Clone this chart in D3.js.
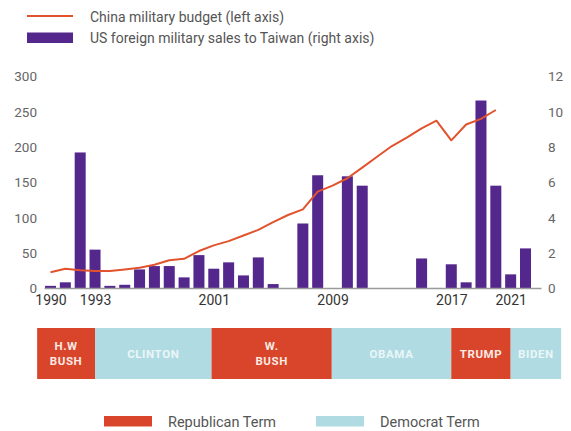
<!DOCTYPE html>
<html>
<head>
<meta charset="utf-8">
<script src="https://cdn.jsdelivr.net/npm/d3@7"></script>
<style>
  html, body { margin: 0; padding: 0; background: #fff; }
  svg { display: block; font-family: Roboto, "Noto Sans", sans-serif; }
</style>
</head>
<body>
<svg id="chart" width="571" height="431"></svg>
<script>
// Years on the shared x axis
const years = d3.range(1990, 2023);

// US foreign military sales to Taiwan, billions USD (right axis)
const salesValues = [0.15, 0.35, 7.7, 2.2, 0.15, 0.21, 1.08, 1.27, 1.27, 0.63,
  1.89, 1.12, 1.48, 0.74, 1.76, 0.25, 0, 3.68, 6.41, 0,
  6.35, 5.82, 0, 0, 0, 1.7, 0.03, 1.37, 0.35, 10.64,
  5.82, 0.8, 2.27];

// China military budget, billions USD (left axis), 1990–2020
const budgetYears = d3.range(1990, 2021);
const budgetValues = [23, 28, 25.7, 24.7, 24.7, 27, 29.5, 33.7, 40, 42,
  53, 61, 67, 75, 83, 94, 104, 112, 137, 145.5,
  156, 171, 186.5, 201.6, 213.4, 226.7, 237.5, 209.7, 232, 240,
  252.6];

// Tick labels
const xTickYears = [1990, 1993, 2001, 2009, 2017, 2021];
const leftTicks = [0, 50, 100, 150, 200, 250, 300];
const rightTicks = [0, 2, 4, 6, 8, 10, 12];

// Presidential terms shown beneath the chart
const termNames = ["H.W\nBUSH", "CLINTON", "W.\nBUSH", "OBAMA", "TRUMP", "BIDEN"];
const termStarts = [1989.1, 1993, 2000.85, 2008.95, 2017, 2021];
const termEnds = [1993, 2000.85, 2008.95, 2017, 2021, 2024.4];
const termParty = ["R", "D", "R", "D", "R", "D"];

const RED = "#d8452a";
const BLUE = "#b1dbe2";
const PURPLE = "#54278d";
const LINE = "#e1532d";

const svg = d3.select("#chart");

// Layout
const plot = { left: 44.5, right: 541.5, top: 76.5, bottom: 288.5 };

const x = d3.scaleLinear().domain([1990, 2022]).range([50.5, 525.5]);
const yLeft = d3.scaleLinear().domain([0, 300]).range([plot.bottom, plot.top]);
const yRight = d3.scaleLinear().domain([0, 12]).range([plot.bottom, plot.top]);
const barWidth = 11;

// Top legend
const legend = svg.append("g").attr("class", "legend");
legend.append("line")
  .attr("x1", 27).attr("x2", 73).attr("y1", 16).attr("y2", 16)
  .attr("stroke", LINE).attr("stroke-width", 2);
legend.append("rect")
  .attr("x", 27).attr("y", 32.5).attr("width", 46).attr("height", 10.5)
  .attr("fill", PURPLE);
legend.append("text")
  .attr("x", 90).attr("y", 17).attr("dy", "0.35em")
  .attr("font-size", 14).attr("fill", "#555")
  .text("China military budget (left axis)");
legend.append("text")
  .attr("x", 90).attr("y", 38).attr("dy", "0.35em")
  .attr("font-size", 14).attr("fill", "#555")
  .text("US foreign military sales to Taiwan (right axis)");

// Left axis labels
const leftAxis = d3.axisLeft(yLeft).tickValues(leftTicks).tickSize(0).tickPadding(0);
svg.append("g")
  .attr("transform", "translate(37,0)")
  .call(leftAxis)
  .call(g => g.select(".domain").remove())
  .call(g => g.selectAll("text")
    .attr("font-family", "Roboto, sans-serif")
    .attr("font-size", 13.5).attr("fill", "#666"));

// Right axis labels
const rightAxis = d3.axisRight(yRight).tickValues(rightTicks).tickSize(0).tickPadding(0);
svg.append("g")
  .attr("transform", "translate(548,0)")
  .call(rightAxis)
  .call(g => g.select(".domain").remove())
  .call(g => g.selectAll("text")
    .attr("font-family", "Roboto, sans-serif")
    .attr("font-size", 13.5).attr("fill", "#666"));

// Bars: arms sales
svg.append("g")
  .selectAll("rect")
  .data(years.map((yr, i) => ({ yr, v: salesValues[i] })).filter(d => d.v > 0))
  .join("rect")
  .attr("x", d => x(d.yr) - barWidth / 2)
  .attr("width", barWidth)
  .attr("y", d => yRight(d.v))
  .attr("height", d => yRight(0) - yRight(d.v))
  .attr("fill", PURPLE);

// Baseline
svg.append("line")
  .attr("x1", plot.left).attr("x2", plot.right)
  .attr("y1", plot.bottom).attr("y2", plot.bottom)
  .attr("stroke", "#9a9a9a").attr("stroke-width", 1.5);

// Line: China budget
const budgetLine = d3.line()
  .x((d, i) => x(budgetYears[i]))
  .y(d => yLeft(d));
svg.append("path")
  .datum(budgetValues)
  .attr("d", budgetLine)
  .attr("fill", "none")
  .attr("stroke", LINE)
  .attr("stroke-width", 2)
  .attr("stroke-linejoin", "round");

// X axis labels
const xAxis = d3.axisBottom(x).tickValues(xTickYears).tickFormat(d3.format("d"))
  .tickSize(0).tickPadding(0);
svg.append("g")
  .attr("transform", `translate(0,${plot.bottom + 7})`)
  .call(xAxis)
  .call(g => g.select(".domain").remove())
  .call(g => g.selectAll("text")
    .attr("font-family", "Roboto, sans-serif")
    .attr("font-size", 14).attr("fill", "#333"));

// Presidential term strip
const strip = { top: 328, bottom: 379 };
const terms = termNames.map((name, i) => ({
  name, start: termStarts[i], end: termEnds[i], party: termParty[i]
}));
const tg = svg.append("g").selectAll("g").data(terms).join("g");
tg.append("rect")
  .attr("x", d => x(d.start))
  .attr("width", d => x(d.end) - x(d.start))
  .attr("y", strip.top)
  .attr("height", strip.bottom - strip.top)
  .attr("fill", d => d.party === "R" ? RED : BLUE);
tg.each(function (d) {
  const lines = d.name.split("\n");
  const cx = (x(d.start) + x(d.end)) / 2;
  const cy = (strip.top + strip.bottom) / 2;
  const lh = 14.5;
  const t = d3.select(this).append("text")
    .attr("text-anchor", "middle")
    .attr("font-size", 11.5)
    .attr("font-weight", 700)
    .attr("letter-spacing", 0.6)
    .attr("fill", d.party === "R" ? "#fbe9e3" : "#eaf6f8");
  lines.forEach((ln, k) => {
    t.append("tspan")
      .attr("x", cx)
      .attr("y", cy + (k - (lines.length - 1) / 2) * lh)
      .attr("dy", "0.36em")
      .text(ln);
  });
});

// Bottom legend
const bl = svg.append("g");
bl.append("rect").attr("x", 104).attr("y", 416).attr("width", 48).attr("height", 10.5).attr("fill", RED);
bl.append("text").attr("x", 168).attr("y", 421.5).attr("dy", "0.35em")
  .attr("font-size", 14.5).attr("fill", "#555").text("Republican Term");
bl.append("rect").attr("x", 316).attr("y", 416).attr("width", 48).attr("height", 10.5).attr("fill", BLUE);
bl.append("text").attr("x", 380).attr("y", 421.5).attr("dy", "0.35em")
  .attr("font-size", 14.5).attr("fill", "#555").text("Democrat Term");
</script>
</body>
</html>
